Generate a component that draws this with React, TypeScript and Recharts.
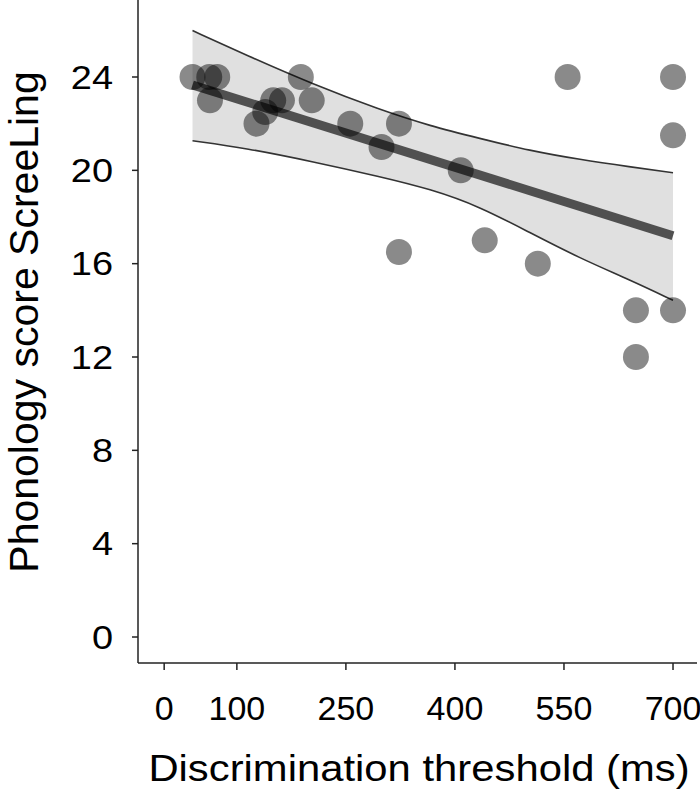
import React from 'react';
import {
  ComposedChart,
  Scatter,
  Line,
  Area,
  XAxis,
  YAxis,
} from 'recharts';

// observed points: discrimination threshold (ms) vs ScreeLing phonology score
const thresholds = [39, 62, 73, 63, 127, 139, 150, 162, 188, 203, 256, 299, 323, 323, 408, 441, 514, 555, 649, 649, 700, 700, 700];
const scores = [24, 24, 24, 23, 22, 22.5, 23, 23, 24, 23, 22, 21, 22, 16.5, 20, 17, 16, 24, 14, 12, 24, 21.5, 14];

// confidence band of the fit
const bandX = [39, 113, 205, 297, 366, 434, 503, 572, 641, 700];
const bandLow = [21.27, 20.95, 20.37, 19.73, 19.2, 18.45, 17.33, 16.23, 15.3, 14.43];
const bandHigh = [25.99, 24.93, 23.68, 22.59, 21.9, 21.37, 20.84, 20.46, 20.15, 19.9];

// regression line end points
const fitX = [39, 700];
const fitY = [23.66, 17.2];

const xTicks = [0, 100, 250, 400, 550, 700];
const yTicks = [0, 4, 8, 12, 16, 20, 24];

const points = thresholds.map((x, i) => ({ x, y: scores[i] }));
const band = bandX.map((x, i) => ({ x, lo: bandLow[i], hi: bandHigh[i] }));
const fit = fitX.map((x, i) => ({ x, y: fitY[i] }));

const FONT = '"Liberation Sans", Arial, sans-serif';

const XTick = (props: any) => {
  const { x, y, payload } = props;
  return (
    <text
      transform={`translate(${x},${y + 20})`}
      textAnchor="middle"
      fontSize={34}
      fontFamily={FONT}
      fill="#000"
    >
      {payload.value}
    </text>
  );
};

const YTick = (props: any) => {
  const { x, y, payload } = props;
  return (
    <text
      transform={`translate(${x},${y + 11.5}) scale(1.15,1)`}
      textAnchor="end"
      fontSize={33}
      fontFamily={FONT}
      fill="#000"
    >
      {payload.value}
    </text>
  );
};

const Dot = (props: any) => (
  <circle cx={props.cx} cy={props.cy} r={13} fill="#000" fillOpacity={0.46} />
);

const App = () => {
  return (
    <div style={{ position: 'absolute', left: 0, top: 0 }}>
      <ComposedChart
        width={700}
        height={794}
        data={band}
        margin={{ top: 0, right: 3, bottom: 0, left: 0 }}
      >
        <XAxis
          dataKey="x"
          type="number"
          domain={[-36, 733]}
          ticks={xTicks}
          allowDataOverflow
          height={131}
          tickSize={7}
          tickMargin={30}
          stroke="#222"
          strokeWidth={1.5}
          tick={<XTick />}
          label={{
            content: () => (
              <text
                transform="translate(419,781) scale(1.13,1)"
                textAnchor="middle"
                fontSize={37}
                fontFamily={FONT}
                fill="#000"
              >
                Discrimination threshold (ms)
              </text>
            ),
          }}
        />
        <YAxis
          dataKey="y"
          type="number"
          domain={[-1.114, 27.3]}
          ticks={yTicks}
          allowDataOverflow
          width={138}
          tickSize={6}
          tickMargin={19}
          stroke="#222"
          strokeWidth={1.5}
          tick={<YTick />}
          label={{
            content: () => (
              <text
                transform="translate(38,322) rotate(-90)"
                textAnchor="middle"
                fontSize={41}
                fontFamily={FONT}
                fill="#000"
              >
                Phonology score ScreeLing
              </text>
            ),
          }}
        />
        <YAxis
          yAxisId="frame"
          orientation="right"
          type="number"
          domain={[-1.114, 27.3]}
          width={0}
          tick={false}
          tickLine={false}
          stroke="#222"
          strokeWidth={1.5}
        />
        <Area
          type="basis"
          dataKey={(d: any) => [d.lo, d.hi]}
          fill="#e0e0e0"
          fillOpacity={1}
          stroke="none"
          isAnimationActive={false}
        />
        <Line type="basis" dataKey="hi" stroke="#333" strokeWidth={1.6} dot={false} isAnimationActive={false} />
        <Line type="basis" dataKey="lo" stroke="#333" strokeWidth={1.6} dot={false} isAnimationActive={false} />
        <Scatter data={points} shape={<Dot />} isAnimationActive={false} />
        <Line data={fit} dataKey="y" stroke="#505050" strokeWidth={9} dot={false} isAnimationActive={false} />
      </ComposedChart>
    </div>
  );
};

export default App;
